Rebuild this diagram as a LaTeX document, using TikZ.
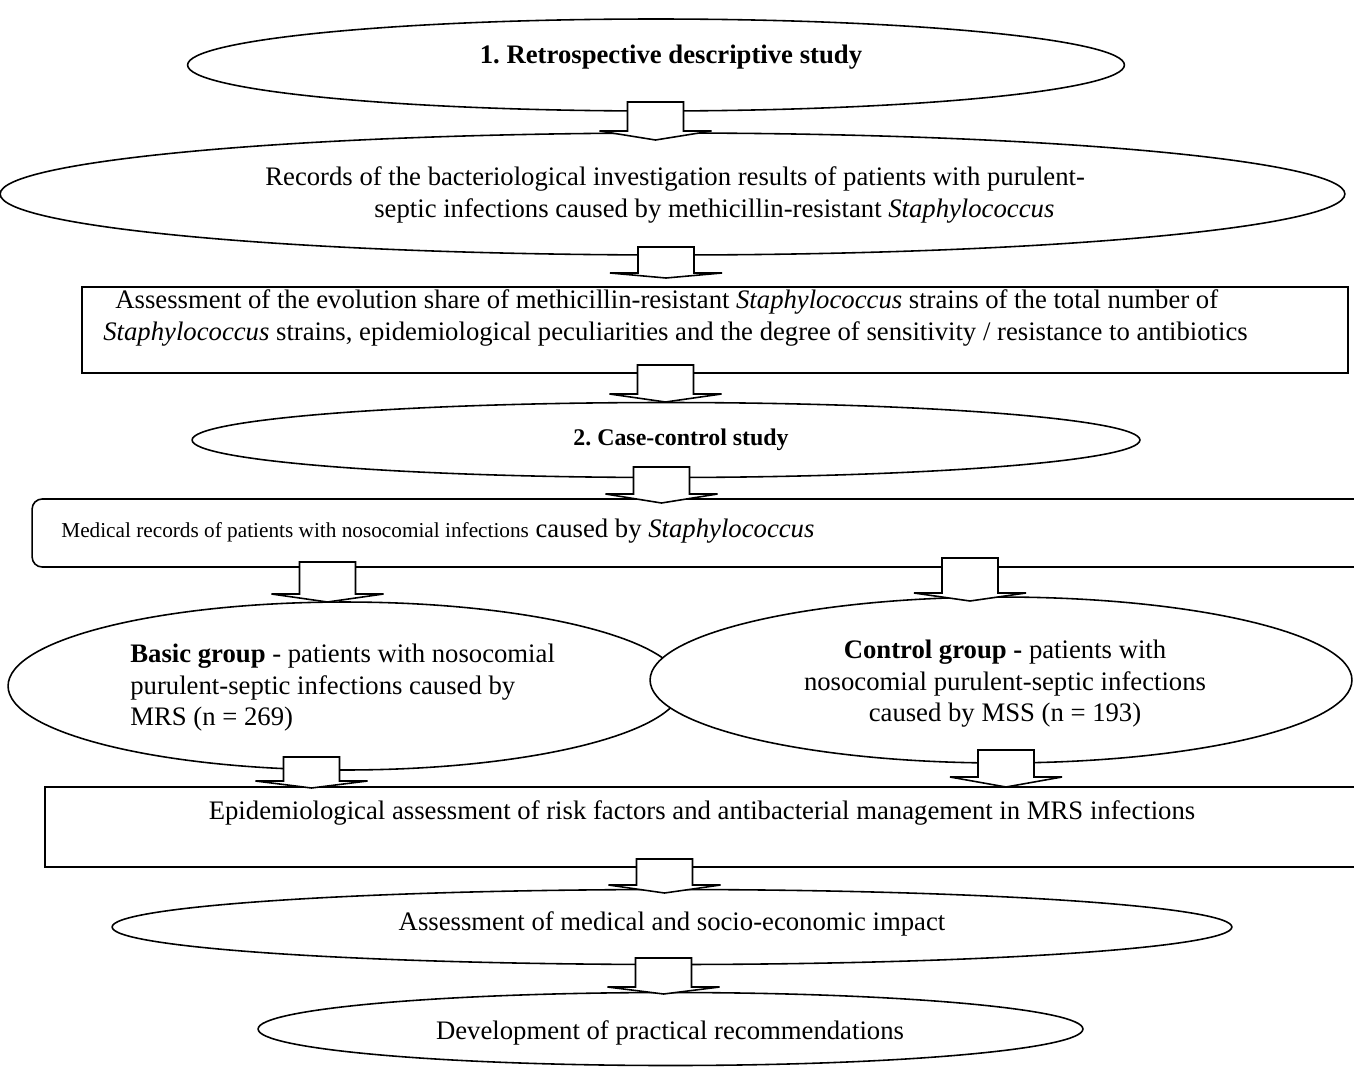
\documentclass[tikz,border=0pt]{standalone}
\usepackage{fontspec}
\setmainfont{Liberation Serif}
\usetikzlibrary{shapes.geometric}
\frenchspacing

\tikzset{
  caja/.style={draw, line width=0.9pt, fill=white, inner sep=0pt, outer sep=0pt},
  elipse/.style={caja, ellipse},
  rectangulo/.style={caja, rectangle},
  redondo/.style={caja, rectangle, rounded corners=0.2cm},
  texto/.style={inner sep=0pt, font=\fontsize{15.2}{17.9}\selectfont},
  pics/flecha/.style 2 args={code={
    \draw[line width=0.9pt, fill=white, line join=miter]
      (-28,0) -- (28,0) -- (28,#1) -- (56,#1) -- (0,#2) -- (-56,#1) -- (-28,#1) -- cycle;
  }}
}

\begin{document}
\begin{tikzpicture}[x=0.02cm, y=-0.02cm]
        % Marco de la figura
        \useasboundingbox (0,0) rectangle (1354,1068);
        \clip (0,0) rectangle (1354,1068);

        % Primera etapa: estudio descriptivo
        \node[elipse, minimum width=18.74cm, minimum height=1.84cm] (e1) at (656,65) {};
        \node[elipse, minimum width=26.9cm, minimum height=2.44cm] (e2) at (672.5,194) {};
        \node[rectangulo, minimum width=25.32cm, minimum height=1.72cm] (r3) at (715,330) {};

        % Segunda etapa: casos y controles
        \node[elipse, minimum width=18.96cm, minimum height=1.5cm] (e4) at (666,440) {};
        \node[redondo, minimum width=26.96cm, minimum height=1.36cm] (r5) at (706,533) {};

        % Los dos grupos (el de control tapa al basico)
        \node[elipse, minimum width=13.48cm, minimum height=3.36cm] (basico) at (345,686) {};
        \node[elipse, minimum width=14.04cm, minimum height=3.32cm] (control) at (1001,680) {};

        % Evaluacion final y recomendaciones
        \node[rectangulo, minimum width=26.7cm, minimum height=1.6cm] (r8) at (712.5,827) {};
        \node[elipse, minimum width=22.4cm, minimum height=1.5cm] (e9) at (672,927) {};
        \node[elipse, minimum width=16.5cm, minimum height=1.46cm] (e10) at (670.5,1029) {};

        % Puntos de salida de las flechas
        \coordinate (f1) at (655.5,102);
        \coordinate (f2) at (666,247);
        \coordinate (f3) at (665.5,365);
        \coordinate (f4) at (661.5,467);
        \coordinate (f5) at (327.5,562);
        \coordinate (f6) at (970,558);
        \coordinate (f7) at (311.5,757);
        \coordinate (f8) at (1006,750);
        \coordinate (f9) at (664.5,859);
        \coordinate (f10) at (663.5,958);

        % Dibuja las flechas de bloque
        \pic at (f1) {flecha={29}{38}};
        \pic at (f2) {flecha={26}{31}};
        \pic at (f3) {flecha={29}{37}};
        \pic at (f4) {flecha={27}{36}};
        \pic at (f5) {flecha={32}{40}};
        \pic at (f6) {flecha={35}{43}};
        \pic at (f7) {flecha={24}{31}};
        \pic at (f8) {flecha={27}{37}};
        \pic at (f9) {flecha={26}{34}};
        \pic at (f10) {flecha={29}{36}};

        % Textos de cada bloque
        \node[texto] (t1) at (671,57) {\textbf{1. Retrospective descriptive study}};
        \node[texto, anchor=west, align=left] (t2) at (265,195)
            {Records of the bacteriological investigation results of patients with purulent-\\
             \hspace*{2.18cm}septic infections caused by methicillin-resistant \textit{Staphylococcus}};
        \node[texto, anchor=west, align=left] (t3) at (103,318)
            {\hspace*{0.24cm}Assessment of the evolution share of methicillin-resistant \textit{Staphylococcus} strains of the total number of\\
             \textit{Staphylococcus} strains, epidemiological peculiarities and the degree of sensitivity / resistance to antibiotics};
        \node[texto, font=\fontsize{13.6}{16}\selectfont] (t4) at (681,440) {\textbf{2. Case-control study}};
        \node[texto, anchor=west] (t5) at (61,531)
            {{\fontsize{12.1}{14}\selectfont Medical records of patients with nosocomial infections} caused by \textit{Staphylococcus}};
        \node[texto, anchor=west, align=left] (t6) at (130,688)
            {\textbf{Basic group} - patients with nosocomial\\purulent-septic infections caused by\\MRS (n = 269)};
        \node[texto, align=center] (t7) at (1005,684)
            {\textbf{Control group -} patients with\\nosocomial purulent-septic infections\\caused by MSS (n = 193)};
        \node[texto] (t8) at (702,813) {Epidemiological assessment of risk factors and antibacterial management in MRS infections};
        \node[texto] (t9) at (672,924) {Assessment of medical and socio-economic impact};
        \node[texto] (t10) at (670,1033) {Development of practical recommendations};
\end{tikzpicture}
\end{document}
